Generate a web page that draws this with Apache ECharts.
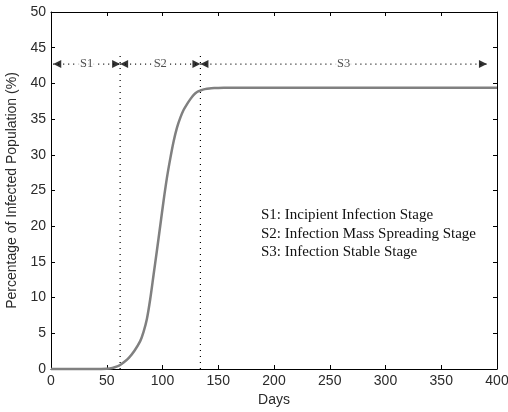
<!DOCTYPE html>
<html>
<head>
<meta charset="utf-8">
<script src="https://cdn.jsdelivr.net/npm/echarts@6/dist/echarts.min.js"></script>
<style>html,body{margin:0;padding:0;background:#fff}#c{width:508px;height:412px}</style>
</head>
<body>
<div id="c"></div>
<script>
// Curve data
const days = [0, 10, 20, 30, 40, 50, 55, 60, 62, 65, 70, 75, 80, 83, 86, 89, 92, 95, 98, 101, 104, 107, 110, 113, 116, 119, 122, 125, 128, 131, 134, 138, 142, 148, 155, 165, 180, 200, 250, 300, 350, 400];
const infected = [0, 0, 0, 0, 0, 0.05, 0.15, 0.4, 0.56, 0.9, 1.6, 2.6, 3.9, 5.2, 7.0, 9.8, 13.2, 16.6, 20.1, 23.6, 26.8, 29.5, 31.9, 33.8, 35.2, 36.3, 37.1, 37.8, 38.4, 38.8, 39.0, 39.2, 39.3, 39.35, 39.4, 39.4, 39.4, 39.4, 39.4, 39.4, 39.4, 39.4];
// Stage annotations
const stageBounds = [2, 62, 134, 391];
const stageLabels = ['S1', 'S2', 'S3'];
const arrowLevel = 42.7;
const dividerDays = [62, 134];
const dividerTop = 44;
const legendLines = ['S1: Incipient Infection Stage', 'S2: Infection Mass Spreading Stage', 'S3: Infection Stable Stage'];
const xTicks = {min: 0, max: 400, step: 50};
const yTicks = {min: 0, max: 50, step: 5};

const chart = echarts.init(document.getElementById('c'));
const sans = 'Liberation Sans, Arial, sans-serif';
const serif = 'Liberation Serif, Times New Roman, serif';
const txt = '#2a2a2a';

const series = [];
series.push({
  type: 'line', data: days.map((d, i) => [d, infected[i]]), showSymbol: false, smooth: 0.3,
  clip: false, z: 5,
  lineStyle: {color: '#808080', width: 2.5}
});
dividerDays.forEach(d => {
  series.push({type: 'line', data: [[d, 0], [d, dividerTop]], showSymbol: false, silent: true,
    lineStyle: {color: '#000', width: 1.2, type: [1, 5]}});
});
for (let i = 0; i < stageLabels.length; i++) {
  const a = stageBounds[i], b = stageBounds[i + 1];
  series.push({type: 'line', data: [[a, arrowLevel], [b, arrowLevel]], showSymbol: false, silent: true,
    lineStyle: {color: '#000', width: 1.2, type: [1, 4]}});
  series.push({type: 'scatter', silent: true, z: 6,
    data: [
      {value: [a, arrowLevel], symbolRotate: 90, symbolOffset: [4, 0]},
      {value: [b, arrowLevel], symbolRotate: -90, symbolOffset: [-4, 0]}
    ],
    symbol: 'triangle', symbolSize: [8, 8], itemStyle: {color: '#000'}});
  series.push({type: 'scatter', silent: true, z: 7, symbolSize: 0,
    data: [[(a + b) / 2, arrowLevel]],
    label: {show: true, position: 'inside', formatter: stageLabels[i], fontFamily: serif, fontSize: 12.5,
      color: '#222', backgroundColor: '#fff', padding: [0, 2]}});
}

const frameLine = {show: true, onZero: false, lineStyle: {color: '#000', width: 1}};
const frameTick = {show: true, inside: true, length: 4, lineStyle: {color: '#000'}};

chart.setOption({
  animation: false,
  grid: {left: 51, right: 11, top: 12, bottom: 43, outerBoundsMode: 'none', containLabel: false},
  xAxis: [{
    type: 'value', min: xTicks.min, max: xTicks.max, interval: xTicks.step, position: 'bottom',
    axisLine: frameLine, axisTick: frameTick,
    axisLabel: {color: txt, fontSize: 14, fontFamily: sans, margin: 5},
    splitLine: {show: false},
    name: 'Days', nameLocation: 'middle', nameGap: 21,
    nameTextStyle: {color: txt, fontSize: 14, fontFamily: sans}
  }, {
    type: 'value', min: xTicks.min, max: xTicks.max, interval: xTicks.step, position: 'top',
    axisLine: frameLine, axisTick: frameTick,
    axisLabel: {show: false}, splitLine: {show: false}
  }],
  yAxis: [{
    type: 'value', min: yTicks.min, max: yTicks.max, interval: yTicks.step, position: 'left',
    axisLine: frameLine, axisTick: frameTick,
    axisLabel: {color: txt, fontSize: 14, fontFamily: sans, margin: 5},
    splitLine: {show: false},
    name: 'Percentage of Infected Population (%)', nameLocation: 'middle', nameGap: 24,
    nameTextStyle: {color: txt, fontSize: 14, fontFamily: sans}
  }, {
    type: 'value', min: yTicks.min, max: yTicks.max, interval: yTicks.step, position: 'right',
    axisLine: frameLine, axisTick: frameTick,
    axisLabel: {show: false}, splitLine: {show: false}
  }],
  graphic: legendLines.map((t, i) => ({
    type: 'text', left: 261, top: 208 + i * 18.5,
    style: {text: t, fontFamily: serif, fontSize: 15, fill: '#111'}
  })),
  series: series
});
</script>
</body>
</html>
